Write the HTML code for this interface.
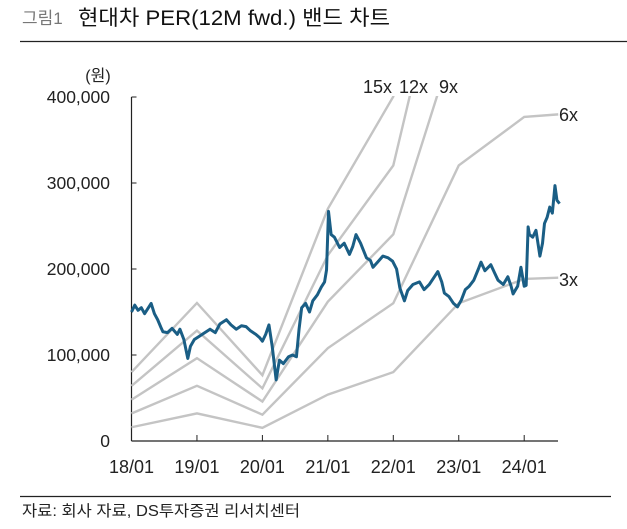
<!DOCTYPE html>
<html><head><meta charset="utf-8"><style>
body{margin:0;background:#fff;width:627px;height:524px;overflow:hidden;font-family:"Liberation Sans","Noto Sans CJK KR",sans-serif;}
svg text{font-family:"Liberation Sans","Noto Sans CJK KR",sans-serif;}
</style></head><body>
<svg width="627" height="524">
<text x="22" y="24" font-size="17" fill="#777">그림1</text>
<text x="78" y="25" font-size="21" fill="#111" textLength="312" lengthAdjust="spacingAndGlyphs">현대차 PER(12M fwd.) 밴드 차트</text>
<line x1="20" y1="41.5" x2="627" y2="41.5" stroke="#222" stroke-width="1.2"/>
<line x1="20" y1="496.5" x2="611" y2="496.5" stroke="#222" stroke-width="1.2"/>
<text x="22" y="516" font-size="15.5" fill="#222" textLength="278" lengthAdjust="spacingAndGlyphs">자료: 회사 자료, DS투자증권 리서치센터</text>
<text x="98" y="81" font-size="16" fill="#222" text-anchor="middle">(원)</text>
<defs><clipPath id="cp"><rect x="120" y="96" width="480" height="360"/></clipPath></defs>
<g id="axes"></g>
<g id="bands" clip-path="url(#cp)"></g>
<g id="price"></g>
<g id="labels"></g>
</svg>
<script>
const yTicks=[0,100000,200000,300000,400000];
const yTickLabels=["0","100,000","200,000","300,000","400,000"];
const xTicks=[0,1,2,3,4,5,6];
const xTickLabels=["18/01","19/01","20/01","21/01","22/01","23/01","24/01"];
const bandMultiples=[3,6,9,12,15];
const bandLabels=["3x","6x","9x","12x","15x"];
const epsTimes=[0,1,2,3,4,5,6,6.52];
const epsValues=[5333,10700,5100,18000,26700,53400,62800,63300];
const priceTimes=[0,0.05,0.1,0.15,0.2,0.25,0.3,0.35,0.4,0.45,0.48,0.55,0.62,0.7,0.74,0.8,0.86,0.9,0.96,1.04,1.1,1.2,1.28,1.35,1.45,1.52,1.6,1.68,1.75,1.82,1.9,1.96,2.0,2.05,2.1,2.15,2.21,2.26,2.32,2.4,2.46,2.52,2.56,2.6,2.66,2.72,2.77,2.84,2.9,2.95,2.98,3.01,3.05,3.1,3.18,3.25,3.33,3.38,3.43,3.5,3.59,3.65,3.69,3.76,3.84,3.92,3.99,4.05,4.1,4.17,4.22,4.3,4.4,4.47,4.55,4.62,4.68,4.74,4.78,4.85,4.92,4.98,5.04,5.1,5.16,5.23,5.3,5.34,5.4,5.49,5.55,5.6,5.68,5.75,5.8,5.83,5.9,5.95,6.0,6.03,6.06,6.08,6.13,6.18,6.24,6.28,6.31,6.35,6.39,6.43,6.47,6.5,6.54];
const priceValues=[150,158,152,155,148,154,160,148,141,132,127,126,131,124,130,118,96,110,118,122,125,130,126,136,141,135,130,134,133,128,124,120,116,124,135,110,71,94,90,98,100,98,130,155,160,150,163,170,179,185,199,267,240,237,225,230,217,226,240,230,213,210,202,208,215,213,209,200,178,163,175,182,185,176,182,190,197,185,172,168,160,156,164,176,180,187,200,208,198,205,195,187,182,191,180,171,180,202,180,181,249,240,237,245,215,230,253,260,272,265,297,280,276];
const NS="http://www.w3.org/2000/svg";
const X0=131.5,XS=65.45,Y0=441,YS=86/100000;
const xs=t=>X0+t*XS, ys=v=>Y0-v*YS;
function mk(tag,attrs,parent){const e=document.createElementNS(NS,tag);for(const k in attrs)e.setAttribute(k,attrs[k]);document.getElementById(parent).appendChild(e);return e;}
let e=mk('line',{x1:xs(0),y1:ys(0),x2:558,y2:ys(0),stroke:'#222','stroke-width':1.2},'axes');


e=mk('line',{x1:xs(0),y1:ys(0),x2:xs(0),y2:ys(400000),stroke:'#222','stroke-width':1.2},'axes');


yTicks.forEach((v,i)=>{
 const t=mk('line',{x1:xs(0),y1:ys(v),x2:xs(0)+5,y2:ys(v),stroke:'#222','stroke-width':1},'axes');
 
 
 const l=mk('text',{x:110,y:ys(v)+6,'font-size':17.5,fill:'#222','text-anchor':'end'},'axes');l.textContent=yTickLabels[i];
 
 
});
xTicks.forEach((v,i)=>{
 if(i>0){const t=mk('line',{x1:xs(v),y1:ys(0),x2:xs(v),y2:ys(0)-6,stroke:'#222','stroke-width':1},'axes');
 
 }
 const l=mk('text',{x:xs(v),y:473,'font-size':18,fill:'#222','text-anchor':'middle'},'axes');l.textContent=xTickLabels[i];
 
 
});
bandMultiples.forEach((m,i)=>{
 const pts=epsTimes.map((t,j)=>xs(t)+','+ys(epsValues[j]*m)).join(' ');
 const p=mk('polyline',{points:pts,fill:'none',stroke:'#c4c4c4','stroke-width':2.4},'bands');
 
 
});
const pp=priceTimes.map((t,j)=>xs(t)+','+ys(priceValues[j]*1000)).join(' ');
e=mk('polyline',{points:pp,fill:'none',stroke:'#1a5e85','stroke-width':3,'stroke-linejoin':'round'},'price');


const labPos=[[559,286],[559,121],[439,93],[399,93],[363,93]];
bandLabels.forEach((s,i)=>{
 const l=mk('text',{x:labPos[i][0],y:labPos[i][1],'font-size':18,fill:'#222'},'labels');l.textContent=s;
 
 
});
</script>
</body></html>
